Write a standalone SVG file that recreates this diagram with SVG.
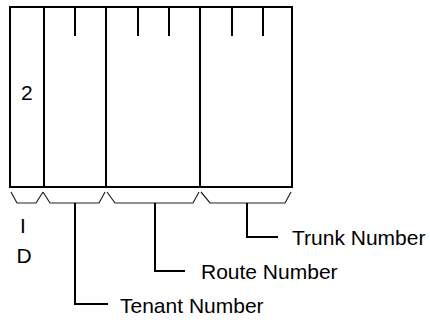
<svg xmlns="http://www.w3.org/2000/svg" width="430" height="320" viewBox="0 0 430 320">
<style>
.box{fill:none;stroke:#000;stroke-width:2}
.ln{fill:none;stroke:#000;stroke-width:2}
.br{fill:none;stroke:#222;stroke-width:1.2}
text{font-family:"Liberation Sans",Arial,sans-serif;font-size:21px;fill:#000}
</style>
<rect width="430" height="320" fill="#fff"/>
<g id="field">
<rect class="box" x="10" y="7" width="282" height="180"/>
<path class="ln" d="M44 7V187M106 7V187M200 7V187"/>
<path class="ln" d="M75 7V36M138 7V36M169 7V36M232 7V36M263 7V36"/>
<text x="21" y="100">2</text>
</g>
<g id="braces">
<path class="br" d="M11 192L17 203H36L43 192"/>
<path class="br" d="M43 192L50 203H99L105 192"/>
<path class="br" d="M107 192L115 203H193L199 192"/>
<path class="br" d="M201 192L210 203H285L291 192"/>
</g>
<g id="connectors">
<path class="ln" d="M75 203V304H108"/>
<path class="ln" d="M155 203V271H185"/>
<path class="ln" d="M247 203V237H278"/>
</g>
<g id="id-label">
<text x="23" y="233" text-anchor="middle">I</text>
<text x="24" y="263" text-anchor="middle">D</text>
</g>
<g id="trunk"><text x="292" y="245">Trunk Number</text></g>
<g id="route"><text x="201" y="279">Route Number</text></g>
<g id="tenant"><text x="120" y="313">Tenant Number</text></g>
</svg>
